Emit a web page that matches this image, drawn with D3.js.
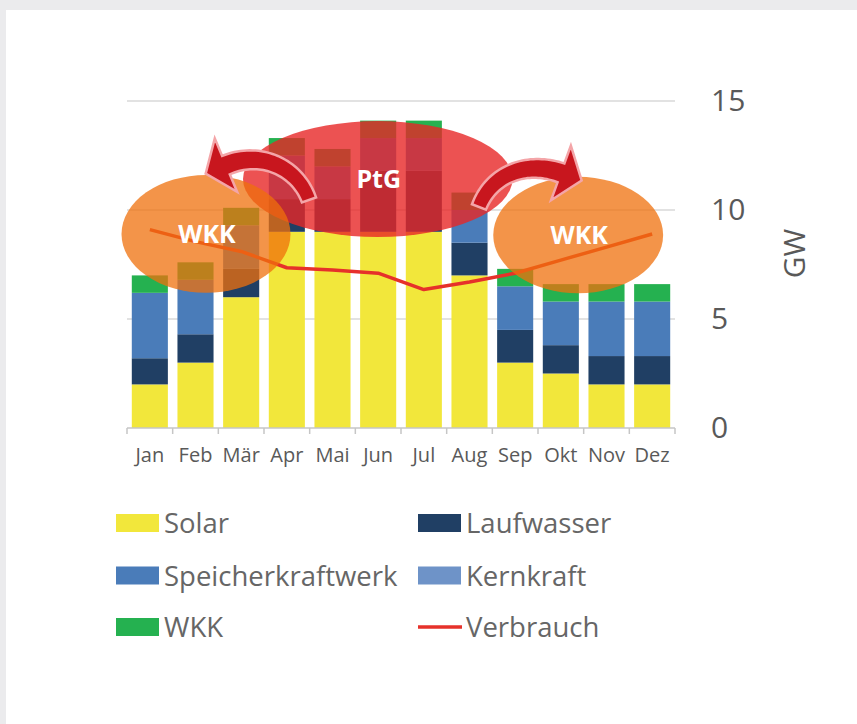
<!DOCTYPE html>
<html>
<head>
<meta charset="utf-8">
<script src="https://cdn.jsdelivr.net/npm/d3@7"></script>
<style>
  body { margin: 0; background: #ebebed; }
  svg { display: block; }
  text { font-family: "Open Sans", sans-serif; }
</style>
</head>
<body>
<svg id="chart" width="857" height="724"></svg>
<script>
// Produktion nach Quelle, GW pro Monat
const months     = ['Jan', 'Feb', 'Mär', 'Apr', 'Mai', 'Jun', 'Jul', 'Aug', 'Sep', 'Okt', 'Nov', 'Dez'];
const solar      = [2, 3, 6, 9, 9, 9, 9, 7, 3, 2.5, 2, 2];
const laufwasser = [1.2, 1.3, 1.3, 1.5, 1.5, 2.8, 2.8, 1.5, 1.5, 1.3, 1.3, 1.3];
const speicher   = [3.0, 2.5, 2.0, 2.0, 1.5, 1.5, 1.5, 1.5, 2.0, 2.0, 2.5, 2.5];
const kernkraft  = [0, 0, 0, 0, 0, 0, 0, 0, 0, 0, 0, 0];
const wkk        = [0.8, 0.8, 0.8, 0.8, 0.8, 0.8, 0.8, 0.8, 0.8, 0.8, 0.8, 0.8];
const verbrauch  = [9.1, 8.55, 8.1, 7.35, 7.25, 7.1, 6.35, 6.7, 7.1, 7.7, 8.3, 8.9];
const yTicks     = [0, 5, 10, 15];

const seriesNames  = ['Solar', 'Laufwasser', 'Speicherkraftwerk', 'Kernkraft', 'WKK'];
const seriesValues = [solar, laufwasser, speicher, kernkraft, wkk];
const colors = {
    'Solar': '#f2e73b',
    'Laufwasser': '#203f64',
    'Speicherkraftwerk': '#4a7cb9',
    'Kernkraft': '#6e93c8',
    'WKK': '#25b150',
    'Verbrauch': '#e6312a'
};
// legend order as in the picture (two columns)
const legendItems = ['Solar', 'Laufwasser', 'Speicherkraftwerk', 'Kernkraft', 'WKK', 'Verbrauch'];

// annotations, in (month index, GW) units
const ellipses = [
    { label: 'PtG', cx: 4.99, cy: 11.42, rx: 2.95, ry: 2.66, fill: '#e72727', opacity: 0.8 },
    { label: 'WKK', cx: 1.23, cy: 8.9, rx: 1.85, ry: 2.7, fill: '#ef700c', opacity: 0.75 },
    { label: 'WKK', cx: 9.38, cy: 8.85, rx: 1.86, ry: 2.67, fill: '#ef700c', opacity: 0.75 }
];
const arrows = [
    [[3.485, 10.46], [3.244, 11.9], [2.455, 12.75], [1.667, 12.06]],
    [[7.207, 10.14], [7.492, 11.7], [8.280, 12.25], [9.003, 11.70]]
];

const margin = { top: 101, right: 182, bottom: 296, left: 127 };
const width = 857 - margin.left - margin.right;
const height = 724 - margin.top - margin.bottom;

const svg = d3.select('#chart');

// frame
svg.append('rect')
    .attr('x', 6).attr('y', 10)
    .attr('width', 857 - 6).attr('height', 724 - 10)
    .attr('fill', '#fff');

const g = svg.append('g')
    .attr('transform', 'translate(' + margin.left + ',' + margin.top + ')');

const xScale = d3.scaleBand()
    .domain(months)
    .range([0, width])
    .paddingInner(0.21)
    .paddingOuter(0.105);

const yScale = d3.scaleLinear()
    .domain([0, 15])
    .range([height, 0]);

function xAt(i) {
    return xScale(months[0]) + xScale.bandwidth() / 2 + i * xScale.step();
}

// gridlines
g.append('g')
    .selectAll('line')
    .data(yTicks.filter(d => d > 0))
    .enter().append('line')
    .attr('x1', 0).attr('x2', width)
    .attr('y1', d => yScale(d)).attr('y2', d => yScale(d))
    .attr('stroke', '#d9d9d9')
    .attr('stroke-width', 1.5);

// stacked bars
const table = months.map((m, i) => {
    const row = { month: m };
    seriesNames.forEach((s, k) => { row[s] = seriesValues[k][i]; });
    return row;
});
const stacked = d3.stack().keys(seriesNames)(table);

g.append('g')
    .selectAll('g')
    .data(stacked)
    .enter().append('g')
    .attr('fill', d => colors[d.key])
    .selectAll('rect')
    .data(d => d)
    .enter().append('rect')
    .attr('x', d => xScale(d.data.month))
    .attr('width', xScale.bandwidth())
    .attr('y', d => yScale(d[1]))
    .attr('height', d => yScale(d[0]) - yScale(d[1]));

// x axis: baseline, ticks between categories, labels
g.append('line')
    .attr('x1', 0).attr('x2', width)
    .attr('y1', height).attr('y2', height)
    .attr('stroke', '#c6c6c6').attr('stroke-width', 1.5);

g.append('g')
    .selectAll('line')
    .data(d3.range(months.length + 1))
    .enter().append('line')
    .attr('x1', i => i * xScale.step()).attr('x2', i => i * xScale.step())
    .attr('y1', height).attr('y2', height + 6)
    .attr('stroke', '#c6c6c6').attr('stroke-width', 1.5);

const xAxis = g.append('g')
    .attr('transform', 'translate(0,' + height + ')')
    .call(d3.axisBottom(xScale).tickSize(0).tickPadding(20));
xAxis.select('.domain').remove();
xAxis.selectAll('text')
    .style('font-family', '"Open Sans", sans-serif')
    .style('font-size', '20px')
    .attr('fill', '#595959');

// y axis on the right
const yAxis = g.append('g')
    .attr('transform', 'translate(' + width + ',0)')
    .call(d3.axisRight(yScale).tickValues(yTicks).tickSize(0).tickPadding(36));
yAxis.select('.domain').remove();
yAxis.selectAll('text')
    .style('font-family', '"Open Sans", sans-serif')
    .style('font-size', '30px')
    .attr('fill', '#595959');

g.append('text')
    .attr('transform', 'translate(' + (width + 130) + ',' + yScale(8.0) + ') rotate(-90)')
    .attr('text-anchor', 'middle')
    .style('font-size', '30px')
    .attr('fill', '#595959')
    .text('GW');

// Verbrauch line
g.append('path')
    .datum(verbrauch)
    .attr('fill', 'none')
    .attr('stroke', colors['Verbrauch'])
    .attr('stroke-width', 3.5)
    .attr('stroke-linejoin', 'round')
    .attr('d', d3.line().x((d, i) => xAt(i)).y(d => yScale(d)));

// overlay ellipses
g.append('g')
    .selectAll('ellipse')
    .data(ellipses)
    .enter().append('ellipse')
    .attr('cx', d => xAt(d.cx))
    .attr('cy', d => yScale(d.cy))
    .attr('rx', d => d.rx * xScale.step())
    .attr('ry', d => yScale(0) - yScale(d.ry))
    .attr('fill', d => d.fill)
    .attr('fill-opacity', d => d.opacity);

// curved arrows
function arrowPath(pts, w, hw, hl) {
    const p = pts.map(d => [xAt(d[0]), yScale(d[1])]);
    const n = 40, left = [], right = [];
    let end;
    for (let i = 0; i <= n; i++) {
        const t = i / n, u = 1 - t;
        const x = u*u*u*p[0][0] + 3*u*u*t*p[1][0] + 3*u*t*t*p[2][0] + t*t*t*p[3][0];
        const y = u*u*u*p[0][1] + 3*u*u*t*p[1][1] + 3*u*t*t*p[2][1] + t*t*t*p[3][1];
        const dx = 3*u*u*(p[1][0]-p[0][0]) + 6*u*t*(p[2][0]-p[1][0]) + 3*t*t*(p[3][0]-p[2][0]);
        const dy = 3*u*u*(p[1][1]-p[0][1]) + 6*u*t*(p[2][1]-p[1][1]) + 3*t*t*(p[3][1]-p[2][1]);
        const len = Math.hypot(dx, dy);
        const nx = -dy / len, ny = dx / len;
        const ww = w * (0.75 + 0.25 * t);
        left.push([x + nx * ww / 2, y + ny * ww / 2]);
        right.push([x - nx * ww / 2, y - ny * ww / 2]);
        end = { x: x, y: y, tx: dx / len, ty: dy / len, nx: nx, ny: ny };
    }
    const head = [
        [end.x + end.nx * hw, end.y + end.ny * hw],
        [end.x + end.tx * hl, end.y + end.ty * hl],
        [end.x - end.nx * hw, end.y - end.ny * hw]
    ];
    return d3.line()(left.concat(head, right.reverse())) + 'Z';
}

g.append('g')
    .selectAll('path')
    .data(arrows)
    .enter().append('path')
    .attr('d', d => arrowPath(d, 20, 29, 22))
    .attr('fill', '#c8161e')
    .attr('stroke', '#f4a5a8')
    .attr('stroke-width', 2.5)
    .attr('stroke-linejoin', 'miter');

// labels on the ellipses
g.append('g')
    .selectAll('text')
    .data(ellipses)
    .enter().append('text')
    .attr('x', d => xAt(d.cx) + 1)
    .attr('y', d => yScale(d.cy) + 9)
    .attr('text-anchor', 'middle')
    .style('font-size', '25px')
    .style('font-weight', 'bold')
    .attr('fill', '#fff')
    .text(d => d.label);

// legend
const legend = svg.append('g');
const rowsY = [523, 575.5, 627];
const colsX = [116, 418];

legendItems.forEach((name, i) => {
    const x = colsX[i % 2];
    const y = rowsY[Math.floor(i / 2)];
    if (name === 'Verbrauch') {
        legend.append('line')
            .attr('x1', x).attr('x2', x + 44)
            .attr('y1', y).attr('y2', y)
            .attr('stroke', colors[name])
            .attr('stroke-width', 3.5);
    } else {
        legend.append('rect')
            .attr('x', x).attr('y', y - 9)
            .attr('width', 43).attr('height', 18)
            .attr('fill', colors[name]);
    }
    legend.append('text')
        .attr('x', x + 48)
        .attr('y', y + 10)
        .style('font-size', '27.5px')
        .attr('fill', '#666')
        .text(name);
});
</script>
</body>
</html>
